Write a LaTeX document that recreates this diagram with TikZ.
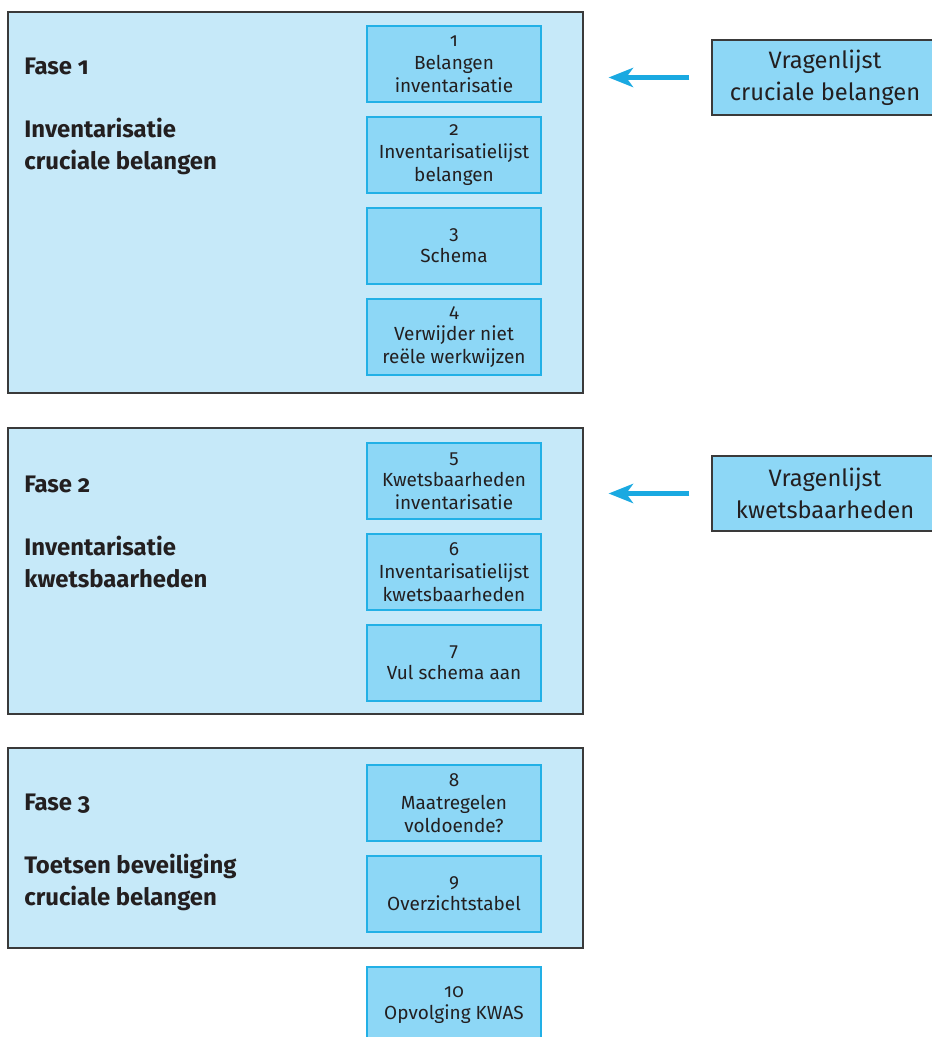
\documentclass[tikz,border=0pt]{standalone}
\usepackage{fontspec}
\setmainfont{Fira Sans}[Numbers=OldStyle]
\usetikzlibrary{arrows.meta}

\definecolor{fasefill}{HTML}{C6E9F9}
\definecolor{stapfill}{HTML}{8DD7F6}
\definecolor{staprand}{HTML}{22B0E6}
\definecolor{pijlkleur}{HTML}{1AA9E1}
\definecolor{rand}{HTML}{3A3A3A}
\definecolor{tekst}{HTML}{231F20}

\tikzset{
  fase/.style={draw=rand, fill=fasefill, line width=0.7pt, minimum width=11.5cm, inner sep=0pt},
  stap/.style={draw=staprand, fill=stapfill, line width=0.8pt, minimum width=3.48cm,
    minimum height=1.52cm, inner sep=0pt, align=center, text=tekst,
    font=\fontsize{10.8}{13}\selectfont},
  kop/.style={anchor=west, align=left, text=tekst, inner sep=0pt,
    font=\fontsize{13.6}{18}\selectfont\bfseries},
  vragen/.style={draw=rand, fill=stapfill, line width=0.7pt, minimum width=4.52cm,
    minimum height=1.5cm, inner sep=0pt, align=center, text=tekst,
    font=\fontsize{13.5}{18}\selectfont},
  pijl/.style={draw=pijlkleur, line width=2.3pt, -{Stealth[length=14pt,width=11pt,inset=4pt]},
    shorten <=0.44cm, shorten >=0.5cm}
}

\begin{document}
\begin{tikzpicture}
 \begin{scope}[x=0.02cm,y=-0.02cm]
  \useasboundingbox (0,0) rectangle (932,1037);

  \node[fase, minimum height=7.62cm] (f1) at (295.5,202.5) {};
  \node[fase, minimum height=5.72cm] (f2) at (295.5,571) {};
  \node[fase, minimum height=4cm] (f3) at (295.5,848) {};

  \node[kop] (k1) at (24,116) {Fase 1\\[18pt]Inventarisatie\\cruciale belangen};
  \node[kop] (k2) at (24,532) {Fase 2\\[18pt]Inventarisatie\\kwetsbaarheden};
  \node[kop] (k3) at (24,852) {Fase 3\\[18pt]Toetsen beveiliging\\cruciale belangen};

  \node[stap] (s1) at (454,64) {1\\Belangen\\inventarisatie};
  \node[stap] (s2) at (454,155) {2\\Inventarisatielijst\\belangen};
  \node[stap] (s3) at (454,246) {3\\Schema};
  \node[stap] (s4) at (454,337) {4\\Verwijder niet\\reële werkwijzen};

  \node[stap] (s5) at (454,481) {5\\Kwetsbaarheden\\inventarisatie};
  \node[stap] (s6) at (454,572) {6\\Inventarisatielijst\\kwetsbaarheden};
  \node[stap] (s7) at (454,663) {7\\Vul schema aan};

  \node[stap] (s8) at (454,803) {8\\Maatregelen\\voldoende?};
  \node[stap] (s9) at (454,894) {9\\Overzichtstabel};

  \node[stap] (s10) at (454,1005) {10\\Opvolging KWAS};

  \node[vragen] (v1) at (825,77.5) {Vragenlijst\\cruciale belangen};
  \node[vragen] (v2) at (825,493.5) {Vragenlijst\\kwetsbaarheden};

  \draw[pijl] (v1.west) -- (v1.west -| f1.east);
  \draw[pijl] (v2.west) -- (v2.west -| f2.east);
 \end{scope}
\end{tikzpicture}
\end{document}
